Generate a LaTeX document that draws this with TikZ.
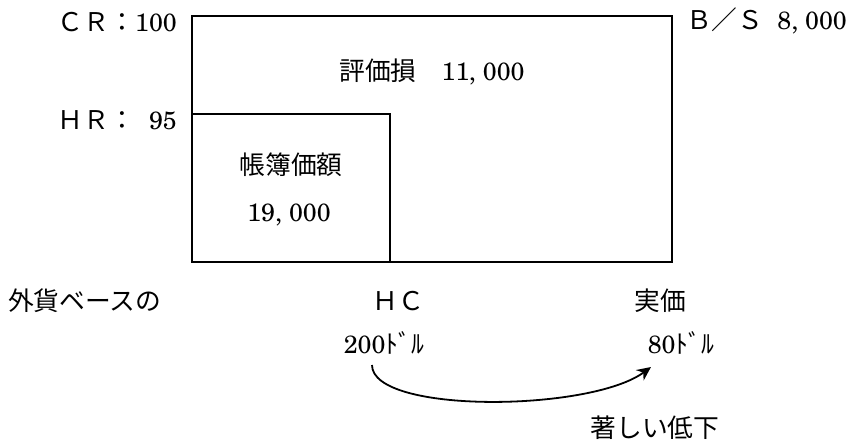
\documentclass[tikz,border=0pt]{standalone}
\usepackage{fontspec}
\setmainfont{texgyreschola-regular.otf}
\newfontfamily\jpfont{Noto Sans CJK JP}[Scale=1.03]
\newcommand{\jp}[1]{{\jpfont #1}}
\usetikzlibrary{arrows.meta}
\begin{document}
\begin{tikzpicture}[x=1pt,y=-1pt,
  lbl/.style={inner sep=0pt,font=\fontsize{25}{28}\selectfont},
  box/.style={line width=1.8pt},
  curvearrow/.style={line width=1.8pt,-{Stealth[length=14pt,width=13pt]}}]
\useasboundingbox (0,0) rectangle (856,443);
% boxes
\draw[box] (192,16) rectangle (672,262);
\draw[box] (192,114) -- (390,114) -- (390,262);
% left labels
\node[lbl,anchor=east] (cr) at (177,22) {\jp{ＣＲ：}100};
\node[lbl,anchor=east] (hr) at (177,120) {\jp{ＨＲ：}\ \ 95};
\node[lbl,anchor=west] (bs) at (686,21) {\jp{Ｂ／Ｓ}\ \ 8,\ 000};
% inside
\node[lbl] (loss) at (432,72) {\jp{評価損}\quad 11,\ 000};
\node[lbl] (book) at (291,165) {\jp{帳簿価額}};
\node[lbl] (bookv) at (289,215) {19,\ 000};
% bottom
\node[lbl,anchor=west] (fx) at (8,301) {\jp{外貨ベースの}};
\node[lbl] (hc) at (398,301) {\jp{ＨＣ}};
\node[lbl] (real) at (660,301) {\jp{実価}};
\node[lbl] (d200) at (384,343) {200\jp{ﾄﾞﾙ}};
\node[lbl] (d80) at (681,343) {80\jp{ﾄﾞﾙ}};
\node[lbl] (drop) at (655,428) {\jp{著しい低下}};
\coordinate (s) at (372,365);
\coordinate (e) at (651,367);
\draw[curvearrow] (s) .. controls (372,414) and (590,412) .. (e);
\end{tikzpicture}
\end{document}
